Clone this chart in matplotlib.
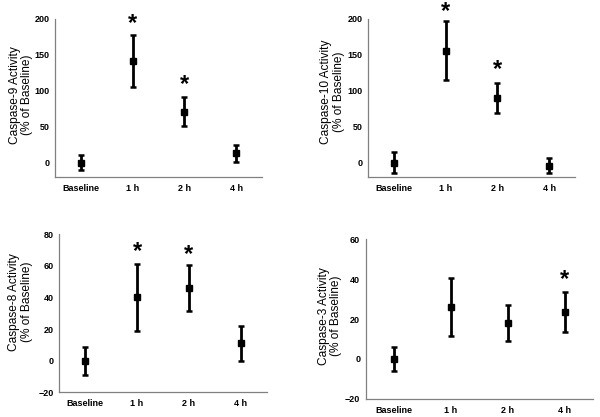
import matplotlib
matplotlib.use("Agg")
import matplotlib.pyplot as plt

plt.rcParams['font.family'] = ['Liberation Sans', 'DejaVu Sans']

categories = ["Baseline", "1 h", "2 h", "4 h"]

casp9_mean = [0, 142, 71, 13]
casp9_err = [10, 36, 20, 12]
casp9_star = [None, 193, 109, None]

casp10_mean = [0, 156, 90, -4]
casp10_err = [15, 41, 21, 10]
casp10_star = [None, 210, 129, None]

casp8_mean = [0, 40, 46, 11]
casp8_err = [8.8, 21, 14.5, 11]
casp8_star = [None, 69, 67, None]

casp3_mean = [0, 26, 18, 23.5]
casp3_err = [6, 14.4, 9, 10]
casp3_star = [None, None, None, 40]

panels = [
    dict(mean=casp9_mean, err=casp9_err, star=casp9_star, ylabel="Caspase-9 Activity\n(% of Baseline)",
         ylim=(-20, 200), ticks=[0, 50, 100, 150, 200], rect=[0.0917, 0.5755, 0.345, 0.379],
         lab=(-0.106, 0.52)),
    dict(mean=casp10_mean, err=casp10_err, star=casp10_star, ylabel="Caspase-10 Activity\n(% of Baseline)",
         ylim=(-20, 200), ticks=[0, 50, 100, 150, 200], rect=[0.6138, 0.5755, 0.3445, 0.379],
         lab=(-0.115, 0.54)),
    dict(mean=casp8_mean, err=casp8_err, star=casp8_star, ylabel="Caspase-8 Activity\n(% of Baseline)",
         ylim=(-20, 80), ticks=[-20, 0, 20, 40, 60, 80], rect=[0.0988, 0.0588, 0.3457, 0.380],
         lab=(-0.127, 0.57)),
    dict(mean=casp3_mean, err=casp3_err, star=casp3_star, ylabel="Caspase-3 Activity\n(% of Baseline)",
         ylim=(-20, 60), ticks=[-20, 0, 20, 40, 60], rect=[0.6095, 0.0439, 0.3788, 0.3822],
         lab=(-0.104, 0.52)),
]

fig = plt.figure(figsize=(6.0, 4.17), dpi=100)
x = list(range(len(categories)))
for p in panels:
    ax = fig.add_axes(p['rect'])
    ax.errorbar(x, p['mean'], yerr=p['err'], fmt='s', color='black', ecolor='black',
                markersize=4.5, elinewidth=2, capsize=2.5, capthick=1.8)
    for xi, s in zip(x, p['star']):
        if s is not None:
            ax.text(xi, s, "*", ha='center', va='center', fontsize=17, fontweight='bold')
    ax.set_xlim(-0.5, 3.5)
    ax.set_ylim(*p['ylim'])
    ax.set_yticks(p['ticks'])
    ax.set_xticks(x)
    ax.set_xticklabels(categories)
    ax.tick_params(length=0, labelsize=6.5)
    ax.tick_params(axis='y', pad=4)
    ax.tick_params(axis='x', pad=5)
    for lab in ax.get_xticklabels() + ax.get_yticklabels():
        lab.set_fontweight('bold')
    ax.spines['top'].set_visible(False)
    ax.spines['right'].set_visible(False)
    for sp in ('left', 'bottom'):
        ax.spines[sp].set_color('#808080')
        ax.spines[sp].set_linewidth(0.9)
    ax.set_ylabel(p['ylabel'], fontsize=8.6, linespacing=1.05)
    ax.yaxis.set_label_coords(*p['lab'])
    ax.patch.set_visible(False)

fig.savefig("out.png", dpi=100)
